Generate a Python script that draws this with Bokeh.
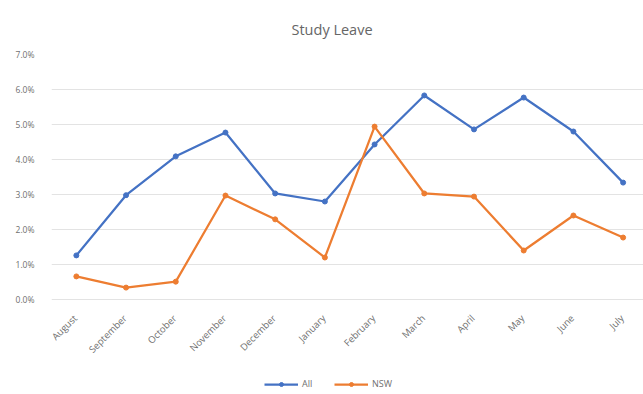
from bokeh.plotting import figure
from bokeh.models import (ColumnDataSource, Range1d, FixedTicker, PrintfTickFormatter,
                          Legend, LegendItem)
from bokeh.core.properties import value
from bokeh.embed import file_html
from bokeh.resources import INLINE
import math

# Monthly study-leave rates (%)
months = ["August", "September", "October", "November", "December", "January",
          "February", "March", "April", "May", "June", "July"]
all_rate = [1.26, 2.98, 4.09, 4.77, 3.03, 2.80, 4.43, 5.83, 4.86, 5.77, 4.80, 3.34]
nsw_rate = [0.66, 0.34, 0.51, 2.97, 2.29, 1.20, 4.94, 3.03, 2.94, 1.40, 2.40, 1.77]
y_ticks = [0, 1, 2, 3, 4, 5, 6, 7]

x = list(range(len(months)))
src = ColumnDataSource(dict(x=x, all_rate=all_rate, nsw_rate=nsw_rate))
lab_src = ColumnDataSource(dict(x=x, y=[0] * len(months), month=months))

FONT = "Open Sans"
GREY = "#6f6f6f"

# The frame runs to the bottom of the canvas; the month labels and the
# legend are drawn inside it, below the 0% line.
p = figure(width=643, height=394, output_backend="svg", toolbar_location=None,
           x_range=Range1d(-0.5, 11.41), y_range=Range1d(-2.714, 7),
           x_axis_location=None,
           min_border_left=51, min_border_right=0, min_border_top=54,
           min_border_bottom=0, title="Study Leave")
p.outline_line_color = None
p.background_fill_color = "white"
p.border_fill_color = "white"

p.title.align = "left"
p.title.text_font = FONT
p.title.text_font_size = "14.5px"
p.title.text_font_style = "normal"
p.title.text_color = "#666666"
p.title.offset = 240
p.title.standoff = 32

# y axis
p.yaxis.ticker = FixedTicker(ticks=y_ticks)
p.yaxis.formatter = PrintfTickFormatter(format="%.1f%%")
p.yaxis.axis_line_color = None
p.yaxis.major_tick_line_color = None
p.yaxis.minor_tick_line_color = None
p.yaxis.major_label_text_font = FONT
p.yaxis.major_label_text_font_size = "8.5px"
p.yaxis.major_label_text_color = GREY
p.yaxis.major_label_standoff = 11

p.xgrid.grid_line_color = None
p.ygrid.ticker = FixedTicker(ticks=y_ticks)
p.ygrid.grid_line_color = "#e3e3e3"
p.ygrid.grid_line_width = 1

# month labels, slanted, ending just under each category
p.text(x="x", y="y", text="month", source=lab_src, angle=math.pi / 4,
       x_offset=-1, y_offset=17, text_align="right", text_baseline="middle",
       text_font=value(FONT), text_font_size=value("9.5px"), text_color=GREY)

BLUE = "#4472C4"
ORANGE = "#ED7D31"

l1 = p.line("x", "all_rate", source=src, line_color=BLUE, line_width=2.25)
m1 = p.scatter("x", "all_rate", source=src, size=5, fill_color=BLUE, line_color=BLUE)
l2 = p.line("x", "nsw_rate", source=src, line_color=ORANGE, line_width=2.25)
m2 = p.scatter("x", "nsw_rate", source=src, size=5, fill_color=ORANGE, line_color=ORANGE)

legend = Legend(items=[LegendItem(label="All", renderers=[l1, m1]),
                       LegendItem(label="NSW", renderers=[l2, m2])],
                orientation="horizontal", location=(213, 4),
                label_text_font=FONT, label_text_font_size="9px",
                label_text_color=GREY, glyph_width=34, glyph_height=10,
                spacing=12, padding=2, margin=0, border_line_color=None,
                background_fill_alpha=0, label_standoff=4)
p.add_layout(legend, "center")

open("out.html", "w").write(file_html(p, INLINE))
